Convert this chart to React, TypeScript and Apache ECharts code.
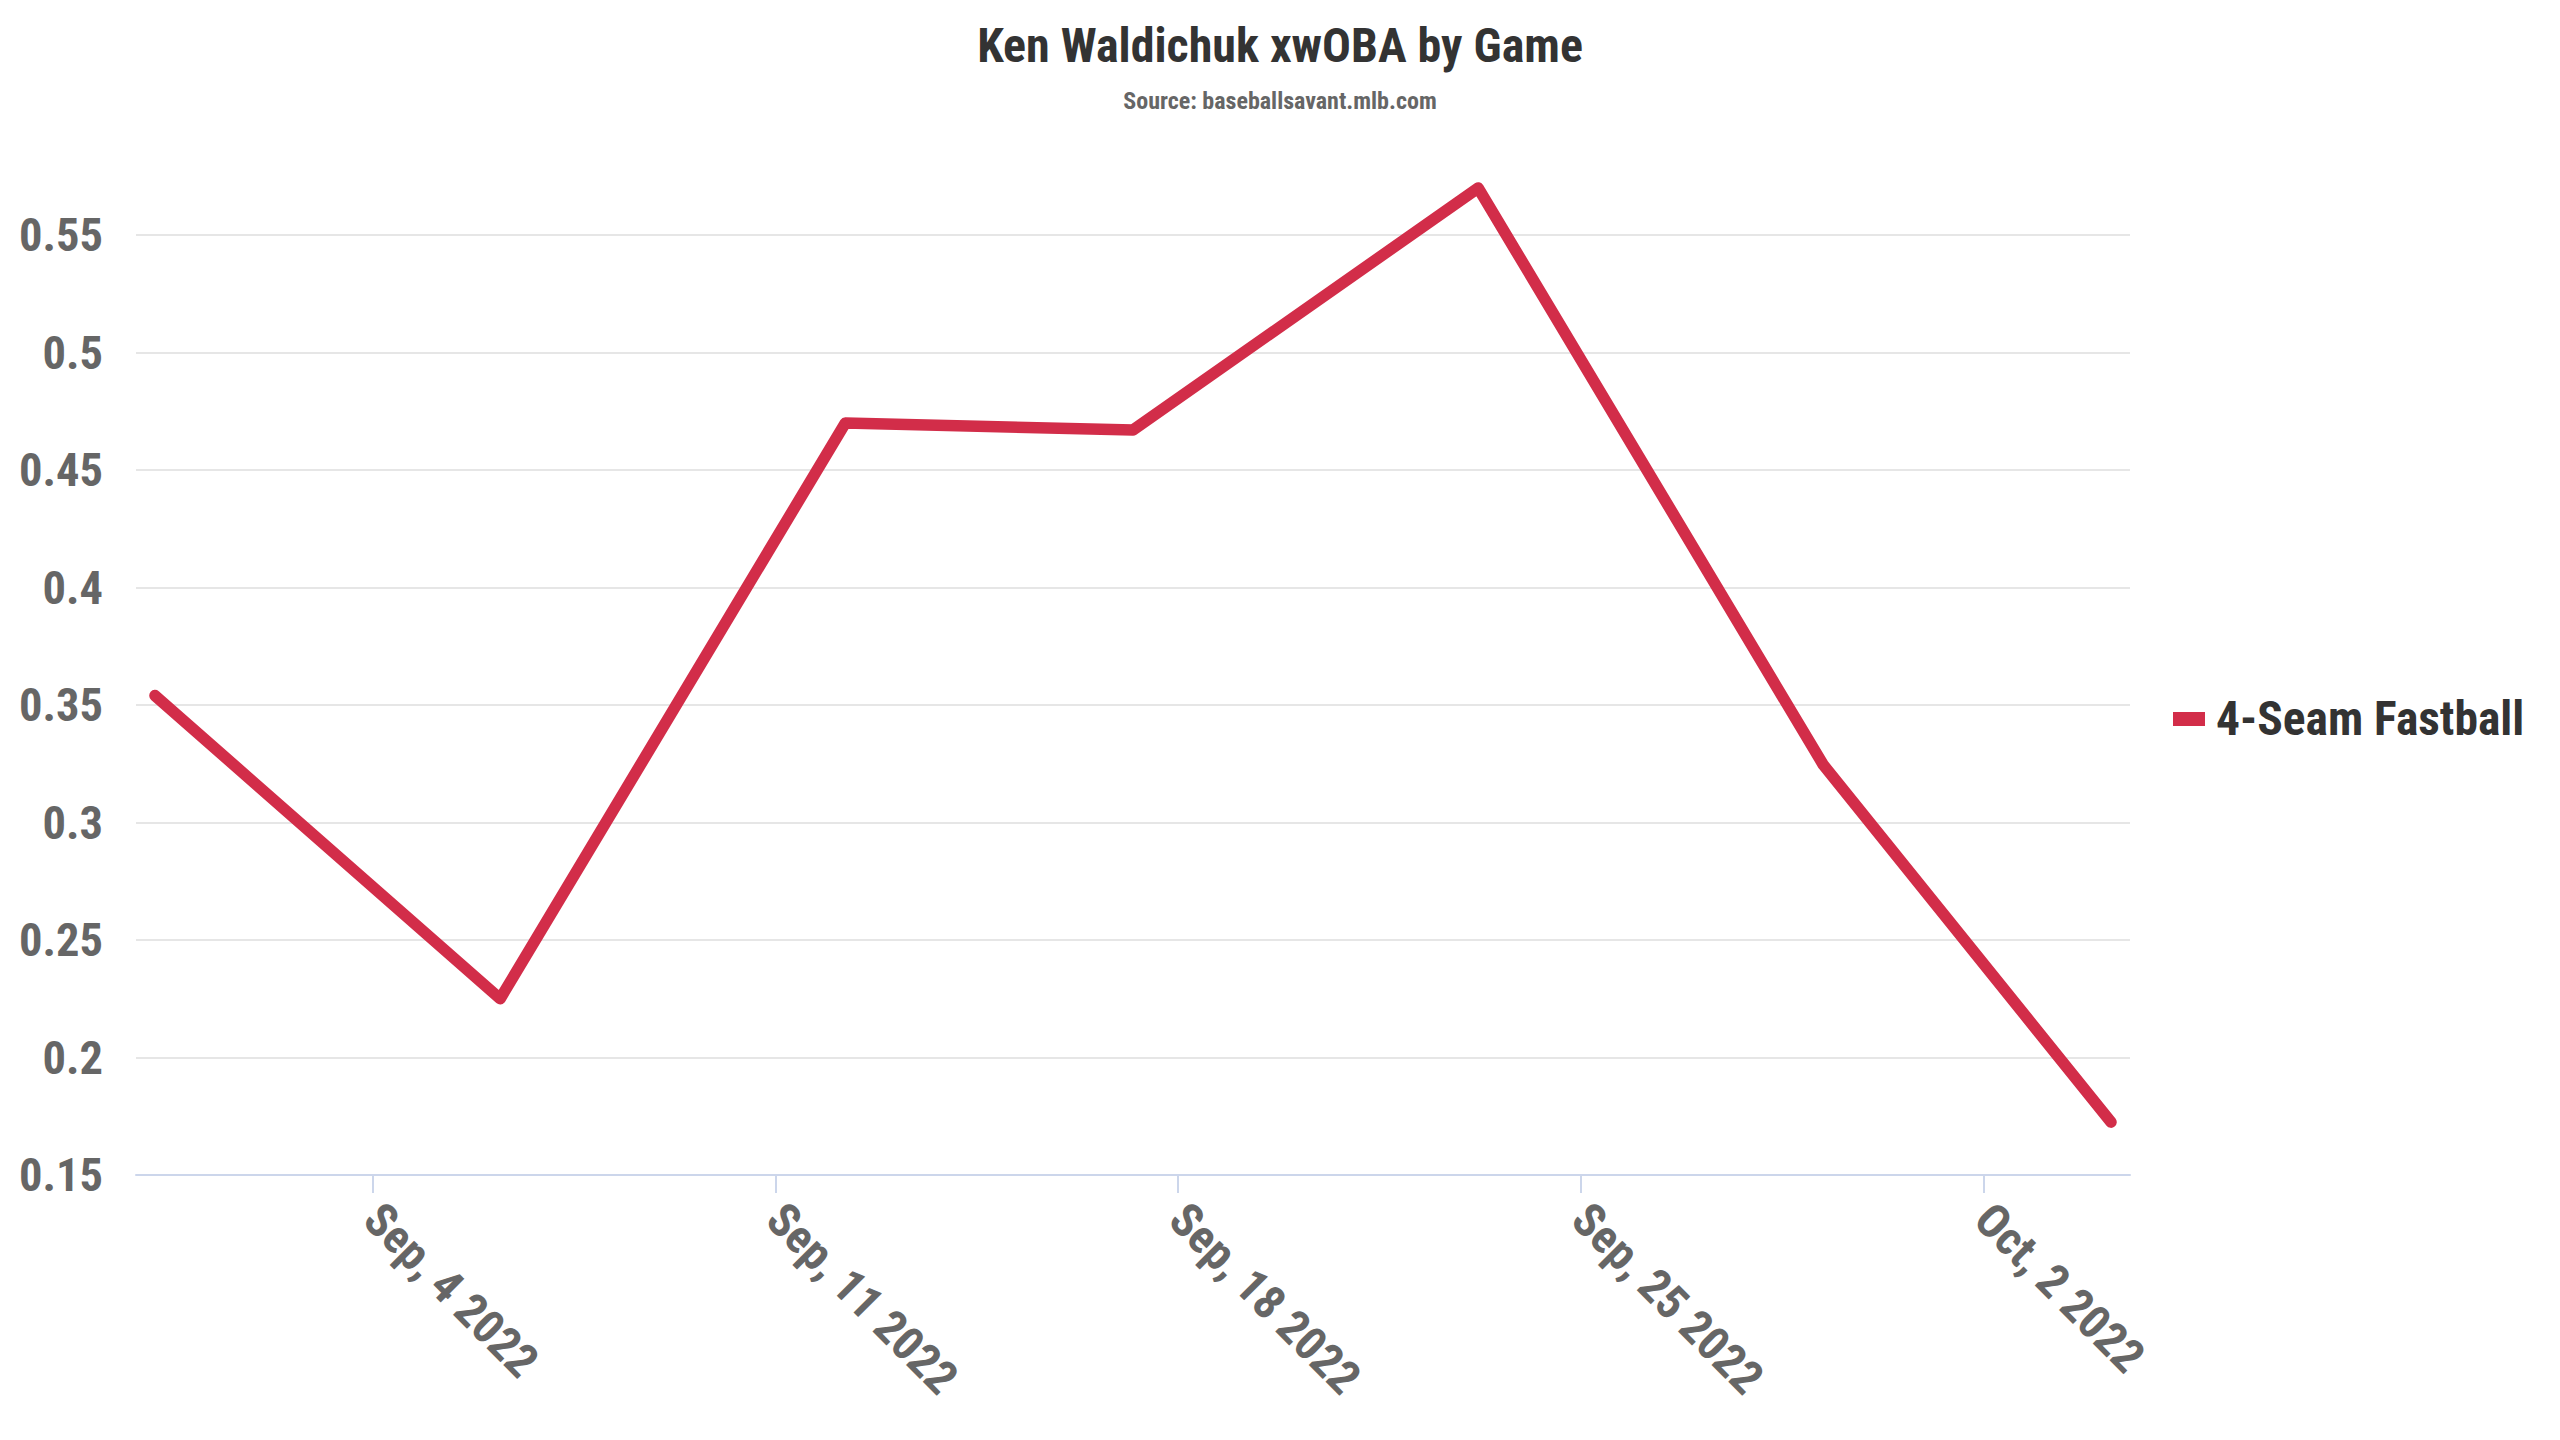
import React, { useEffect, useRef } from "react";
import * as echarts from "echarts";

// ---- data ----
const GAME_DATES = ["2022-08-31", "2022-09-06", "2022-09-12", "2022-09-17", "2022-09-23", "2022-09-29", "2022-10-04"];
const XWOBA_4SEAM = [0.354, 0.225, 0.470, 0.467, 0.570, 0.3245, 0.1725];
const SERIES_NAME = "4-Seam Fastball";
const TICK_DATES = ["2022-09-04", "2022-09-11", "2022-09-18", "2022-09-25", "2022-10-02"];
const TICK_LABELS = ["Sep, 4 2022", "Sep, 11 2022", "Sep, 18 2022", "Sep, 25 2022", "Oct, 2 2022"];
const TITLE = "Ken Waldichuk xwOBA by Game";
const SUBTITLE = "Source: baseballsavant.mlb.com";

const HOUR = 3600 * 1000;
const DAY = 24 * HOUR;
const toMs = (d: string) => {
  const [y, m, dd] = d.split("-").map(Number);
  return Date.UTC(y, m - 1, dd);
};
const TICK_SHIFT = -5.2 * HOUR; // ticks sit at local midnight

const FONT = "'Roboto Condensed', 'Liberation Sans Narrow', 'DejaVu Sans Condensed', Roboto, sans-serif";

export default function App() {
  const ref = useRef<HTMLDivElement>(null);
  useEffect(() => {
    document.body.style.margin = "0";
    if (!ref.current) return;
    const chart = echarts.init(ref.current, undefined, { renderer: "svg" });
    const tickVals = TICK_DATES.map((d) => toMs(d) + TICK_SHIFT);
    const data = GAME_DATES.map((d, i) => [toMs(d), XWOBA_4SEAM[i]]);
    const xMin = toMs(GAME_DATES[0]) - 0.33 * DAY;
    const xMax = toMs(GAME_DATES[GAME_DATES.length - 1]) + 0.33 * DAY;
    chart.setOption({
      animation: false,
      backgroundColor: "#ffffff",
      textStyle: { fontFamily: FONT },
      title: [
        {
          text: TITLE,
          left: "center",
          top: 16,
          textStyle: { fontFamily: FONT, fontSize: 48, fontWeight: "bold", color: "#333333" },
        },
        {
          text: SUBTITLE,
          left: "center",
          top: 84,
          textStyle: { fontFamily: FONT, fontSize: 24, fontWeight: "bold", color: "#666666" },
        },
      ],
      legend: {
        orient: "vertical",
        left: 2168,
        top: 690,
        icon: "rect",
        itemWidth: 32,
        itemHeight: 14,
        textStyle: { fontFamily: FONT, fontSize: 47.5, fontWeight: "bold", color: "#333333", padding: [0, 0, 0, 6] },
        data: [SERIES_NAME],
      },
      grid: { left: 136, right: 430, top: 164.5, bottom: 265, containLabel: false },
      xAxis: {
        type: "value",
        min: xMin,
        max: xMax,
        axisLine: { show: true, lineStyle: { color: "#ccd6eb", width: 2 } },
        axisTick: { show: true, length: 18, lineStyle: { color: "#ccd6eb", width: 2 }, customValues: tickVals },
        splitLine: { show: false },
        axisLabel: {
          customValues: tickVals,
          rotate: -45,
          margin: 36,
          fontFamily: FONT,
          fontSize: 47,
          fontWeight: "bold",
          color: "#666666",
          formatter: (v: number) => {
            const i = tickVals.findIndex((t) => Math.abs(t - v) < HOUR);
            return i >= 0 ? TICK_LABELS[i] : "";
          },
        },
      },
      yAxis: {
        type: "value",
        min: 0.15,
        max: 0.58,
        interval: 0.05,
        axisLine: { show: false },
        axisTick: { show: false },
        splitLine: { show: true, showMinLine: false, showMaxLine: false, lineStyle: { color: "#e6e6e6", width: 2 } },
        axisLabel: {
          margin: 33,
          fontFamily: FONT,
          fontSize: 46.5,
          fontWeight: "bold",
          color: "#666666",
          showMaxLabel: false,
          formatter: (v: number) => {
            const r = Math.round(v * 100) / 100;
            if (Math.abs(r / 0.05 - Math.round(r / 0.05)) > 1e-6) return "";
            return String(r);
          },
        },
      },
      series: [
        {
          name: SERIES_NAME,
          type: "line",
          data,
          showSymbol: false,
          symbol: "none",
          color: "#D22D49",
          lineStyle: { color: "#D22D49", width: 11.5, cap: "round", join: "round" },
        },
      ],
    });
    return () => chart.dispose();
  }, []);
  return <div ref={ref} style={{ width: 2560, height: 1440 }} />;
}
